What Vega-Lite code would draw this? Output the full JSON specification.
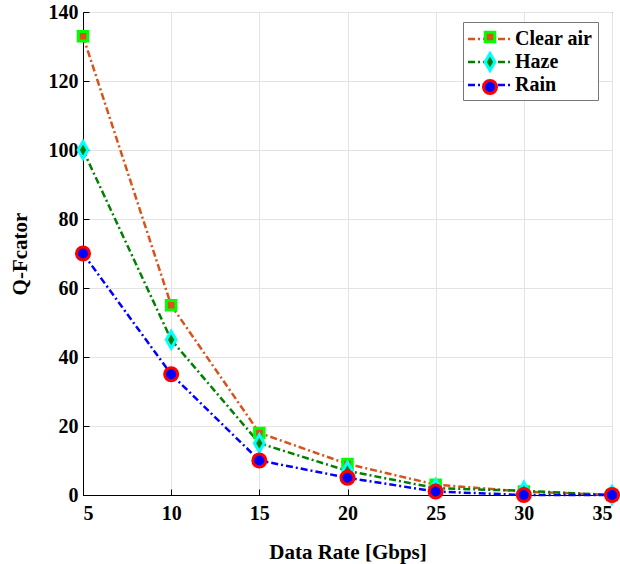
{
  "$schema": "https://vega.github.io/schema/vega-lite/v6.json",
  "autosize": {"type": "none"},
  "width": 529,
  "height": 483,
  "padding": {"left": 83, "top": 12, "right": 8, "bottom": 69},
  "background": "white",
  "config": {
    "view": {"stroke": "black", "strokeWidth": 1},
    "font": "Liberation Serif",
    "axis": {
      "labelFont": "Liberation Serif",
      "labelFontWeight": "bold",
      "labelFontSize": 20,
      "labelColor": "black",
      "titleFont": "Liberation Serif",
      "titleFontWeight": "bold",
      "titleFontSize": 21,
      "titleColor": "black",
      "domainColor": "black",
      "tickColor": "black",
      "tickSize": -6,
      "gridColor": "#e3e3e3",
      "gridWidth": 1
    },
    "legend": {
      "labelFont": "Liberation Serif",
      "labelFontWeight": "bold",
      "labelFontSize": 20,
      "padding": 5,
      "rowPadding": 0,
      "gridAlign": "all"
    }
  },
  "data": {
    "values": [
      {"rate": 5, "q": 133, "series": "Clear air"},
      {"rate": 10, "q": 55, "series": "Clear air"},
      {"rate": 15, "q": 18, "series": "Clear air"},
      {"rate": 20, "q": 9, "series": "Clear air"},
      {"rate": 25, "q": 3, "series": "Clear air"},
      {"rate": 30, "q": 1, "series": "Clear air"},
      {"rate": 35, "q": 0, "series": "Clear air"},
      {"rate": 5, "q": 100, "series": "Haze"},
      {"rate": 10, "q": 45, "series": "Haze"},
      {"rate": 15, "q": 15, "series": "Haze"},
      {"rate": 20, "q": 7, "series": "Haze"},
      {"rate": 25, "q": 2, "series": "Haze"},
      {"rate": 30, "q": 1.2, "series": "Haze"},
      {"rate": 35, "q": 0, "series": "Haze"},
      {"rate": 5, "q": 70, "series": "Rain"},
      {"rate": 10, "q": 35, "series": "Rain"},
      {"rate": 15, "q": 10, "series": "Rain"},
      {"rate": 20, "q": 5, "series": "Rain"},
      {"rate": 25, "q": 1, "series": "Rain"},
      {"rate": 30, "q": 0, "series": "Rain"},
      {"rate": 35, "q": 0, "series": "Rain"}
    ]
  },
  "encoding": {
    "x": {
      "field": "rate", "type": "quantitative",
      "scale": {"domain": [5, 35], "nice": false, "zero": false},
      "axis": {"values": [5, 10, 15, 20, 25, 30, 35], "title": "Data Rate [Gbps]", "labelPadding": 14, "titlePadding": 18}
    },
    "y": {
      "field": "q", "type": "quantitative",
      "scale": {"domain": [0, 140], "nice": false},
      "axis": {"values": [0, 20, 40, 60, 80, 100, 120, 140], "title": "Q-Fcator", "labelPadding": 11, "titlePadding": 18}
    }
  },
  "layer": [
    {
      "mark": {"type": "line", "strokeWidth": 2.5, "strokeDash": [7, 3, 2, 3]},
      "encoding": {
        "color": {
          "field": "series", "type": "nominal",
          "scale": {"domain": ["Clear air", "Haze", "Rain"], "range": ["#D95319", "#008000", "#0000FF"]},
          "legend": {
            "orient": "none", "legendX": 380, "legendY": 10, "title": null,
            "fillColor": "white", "strokeColor": "#777777",
            "symbolType": "M-2,0L2,0", "symbolSize": 441, "symbolStrokeWidth": 2.5,
            "symbolDash": [7, 3, 2, 3], "symbolOffset": 9, "labelOffset": 14,
            "labelColor": "black", "rowPadding": 1
          }
        }
      }
    },
    {
      "mark": {"type": "point", "filled": false, "strokeWidth": 3, "opacity": 1},
      "encoding": {
        "shape": {
          "field": "series", "type": "nominal",
          "scale": {"range": ["square", "M0,-1.5L0.85,0L0,1.5L-0.85,0Z", "circle"]},
          "legend": {
            "orient": "none", "legendX": 380, "legendY": 10, "title": null,
            "symbolOffset": 12, "labelOffset": 0, "labelExpr": "''",
            "symbolStrokeWidth": 3, "rowPadding": -6
          }
        },
        "fill": {
          "field": "series", "type": "nominal",
          "scale": {"range": ["#D95319", "#008000", "#0000FF"]},
          "legend": {
            "orient": "none", "legendX": 380, "legendY": 10, "title": null,
            "symbolOffset": 12, "labelOffset": 0, "labelExpr": "''",
            "symbolStrokeWidth": 3, "rowPadding": -6
          }
        },
        "stroke": {
          "field": "series", "type": "nominal",
          "scale": {"range": ["#00FF00", "#00FFFF", "#FF0000"]},
          "legend": {
            "orient": "none", "legendX": 380, "legendY": 10, "title": null,
            "symbolOffset": 12, "labelOffset": 0, "labelExpr": "''",
            "symbolStrokeWidth": 3, "rowPadding": -6
          }
        },
        "size": {
          "field": "series", "type": "nominal",
          "scale": {"range": [90, 170, 115]},
          "legend": {
            "orient": "none", "legendX": 380, "legendY": 10, "title": null,
            "symbolOffset": 12, "labelOffset": 0, "labelExpr": "''",
            "symbolStrokeWidth": 3, "rowPadding": -6
          }
        }
      }
    }
  ]
}
